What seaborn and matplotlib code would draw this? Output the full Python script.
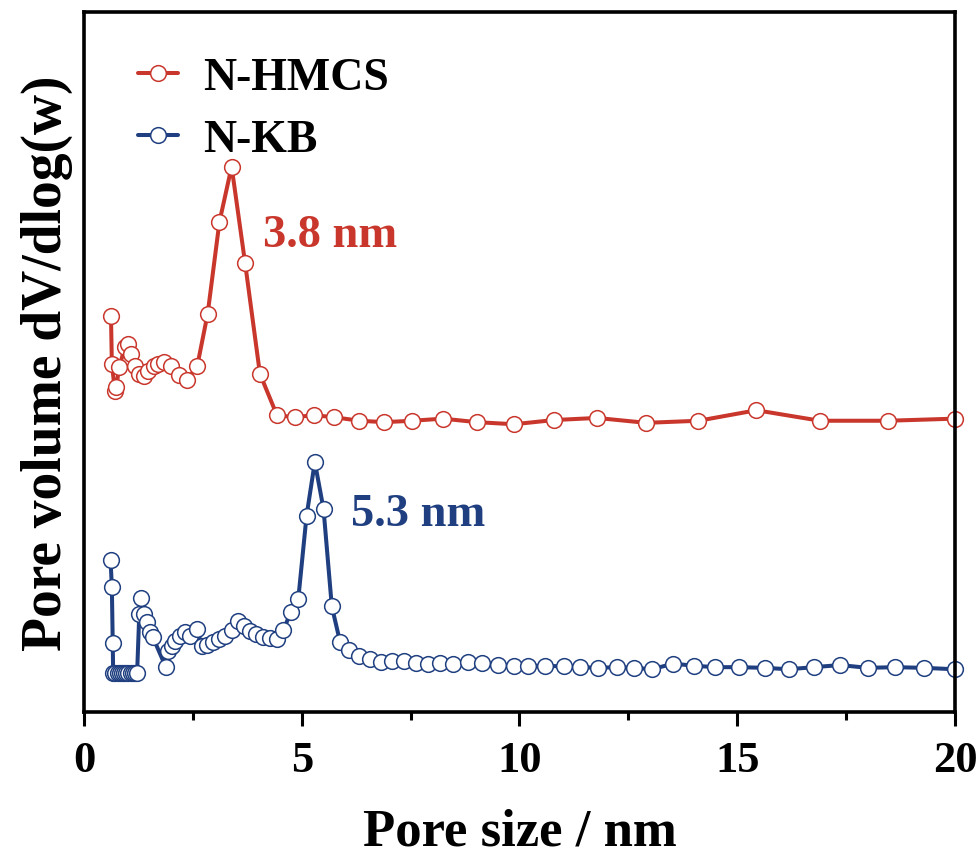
import matplotlib
matplotlib.use("Agg")
import matplotlib.pyplot as plt
import seaborn as sns
import pandas as pd
from matplotlib.ticker import MultipleLocator, NullLocator

# ---------------- data ----------------
hmcs_x = [0.62, 0.64, 0.71, 0.74, 0.81, 0.94, 1.01, 1.09, 1.17, 1.27, 1.38, 1.48,
          1.61, 1.71, 1.84, 1.99, 2.19, 2.37, 2.60, 2.84, 3.11, 3.39, 3.70, 4.04,
          4.43, 4.84, 5.27, 5.75, 6.32, 6.90, 7.54, 8.24, 9.02, 9.87, 10.79, 11.78,
          12.91, 14.11, 15.44, 16.90, 18.46, 20.0]
hmcs_y = [56.6, 49.7, 45.9, 46.4, 49.3, 52.1, 52.6, 51.1, 49.4, 48.3, 48.0, 48.7,
          49.4, 49.7, 50.0, 49.4, 48.1, 47.4, 49.4, 56.9, 70.0, 77.9, 64.1, 48.3,
          42.4, 42.1, 42.4, 42.1, 41.6, 41.4, 41.6, 41.9, 41.4, 41.1, 41.7, 42.0,
          41.3, 41.6, 43.1, 41.6, 41.6, 41.9]

kb_x = [0.61, 0.64, 0.66, 0.67, 0.72, 0.77, 0.82, 0.87, 0.92, 0.97, 1.02, 1.07,
        1.12, 1.17, 1.22, 1.27, 1.31, 1.38, 1.45, 1.52, 1.58, 1.88, 1.94, 2.01,
        2.09, 2.20, 2.32, 2.43, 2.60, 2.70, 2.83, 2.97, 3.11, 3.24, 3.39, 3.54,
        3.67, 3.81, 3.95, 4.10, 4.27, 4.44, 4.58, 4.75, 4.92, 5.11, 5.30, 5.50,
        5.69, 5.88, 6.09, 6.32, 6.57, 6.81, 7.07, 7.35, 7.62, 7.90, 8.17, 8.48,
        8.81, 9.15, 9.51, 9.87, 10.20, 10.59, 11.02, 11.40, 11.81, 12.23, 12.64,
        13.04, 13.53, 14.01, 14.49, 15.03, 15.64, 16.18, 16.76, 17.36, 18.00,
        18.62, 19.29, 20.0]
kb_y = [21.7, 17.9, 9.9, 5.6, 5.6, 5.6, 5.6, 5.6, 5.6, 5.6, 5.6, 5.6,
        5.6, 5.6, 5.6, 14.0, 16.3, 14.0, 12.9, 11.4, 10.7, 6.4, 8.7, 9.4,
        10.1, 10.9, 11.4, 10.9, 11.9, 9.4, 9.6, 10.0, 10.4, 10.9, 11.7, 13.0,
        12.3, 11.6, 11.1, 10.7, 10.6, 10.4, 11.7, 14.3, 16.1, 28.0, 35.7, 29.0,
        15.1, 10.0, 8.9, 8.0, 7.6, 7.1, 7.3, 7.3, 7.0, 6.9, 7.0, 6.9,
        7.1, 7.0, 6.7, 6.6, 6.6, 6.6, 6.5, 6.4, 6.3, 6.4, 6.3,
        6.1, 6.9, 6.6, 6.4, 6.4, 6.3, 6.1, 6.4, 6.7, 6.3,
        6.4, 6.3, 6.1]

series_names = ["N-HMCS", "N-KB"]
peak_labels = ["3.8 nm", "5.3 nm"]
x_ticks = [0, 5, 10, 15, 20]

RED = "#C9372C"
BLUE = "#1F3F80"

# ---------------- style ----------------
sns.set_theme(style="white")
plt.rcParams["font.family"] = ["Liberation Serif", "DejaVu Serif"]
plt.rcParams["font.weight"] = "bold"
plt.rcParams["text.color"] = "black"
plt.rcParams["axes.labelcolor"] = "black"
plt.rcParams["xtick.color"] = "black"
plt.rcParams["ytick.color"] = "black"

fig = plt.figure(figsize=(9.8, 8.62), dpi=100)
ax = fig.add_axes([0.0857, 0.1729, 0.8888, 0.8121])

df_h = pd.DataFrame({"x": hmcs_x, "y": hmcs_y})
df_k = pd.DataFrame({"x": kb_x, "y": kb_y})

common = dict(marker="o", markersize=11.3, markerfacecolor="white",
              markeredgewidth=1.1, linewidth=2.9, errorbar=None, sort=False)
sns.lineplot(data=df_h, x="x", y="y", ax=ax, color=RED, markeredgecolor=RED,
             label=series_names[0], **common)
sns.lineplot(data=df_k, x="x", y="y", ax=ax, color=BLUE, markeredgecolor=BLUE,
             label=series_names[1], **common)

for ln in ax.lines:
    ln.set_clip_on(False)

ax.set_xlim(0, 20)
ax.set_ylim(0, 100)
ax.set_xticks(x_ticks)
ax.set_xticklabels([str(t) for t in x_ticks])
ax.xaxis.set_minor_locator(MultipleLocator(2.5))
ax.yaxis.set_major_locator(NullLocator())

ax.tick_params(axis="x", which="major", direction="out", length=10, width=2.2,
               labelsize=32, pad=10, bottom=True, colors="black")
ax.tick_params(axis="x", which="minor", direction="out", length=5.5, width=2.2,
               bottom=True, colors="black")
for lab in ax.get_xticklabels():
    lab.set_fontweight("bold")

for sp in ax.spines.values():
    sp.set_linewidth(2.6)
    sp.set_color("black")
    sp.set_visible(True)

ax.set_xlabel("Pore size / nm", fontsize=38, fontweight="bold", labelpad=20,
              color="black")
ax.set_ylabel("Pore volume dV/dlog(w)", fontsize=40, fontweight="bold",
              labelpad=8, color="black")

ax.text(4.11, 68.1, peak_labels[0], color=RED, fontsize=33.5, fontweight="bold",
        ha="left", va="center")
ax.text(6.12, 28.3, peak_labels[1], color=BLUE, fontsize=33.5, fontweight="bold",
        ha="left", va="center")

leg = ax.legend(loc="upper left", bbox_to_anchor=(0.062, 0.936), frameon=False,
                fontsize=33, handlelength=0.88, handletextpad=0.55,
                labelspacing=0.44, borderpad=0, borderaxespad=0)
for t in leg.get_texts():
    t.set_fontweight("bold")
    t.set_color("black")

fig.savefig("out.png", dpi=100, facecolor="white")
